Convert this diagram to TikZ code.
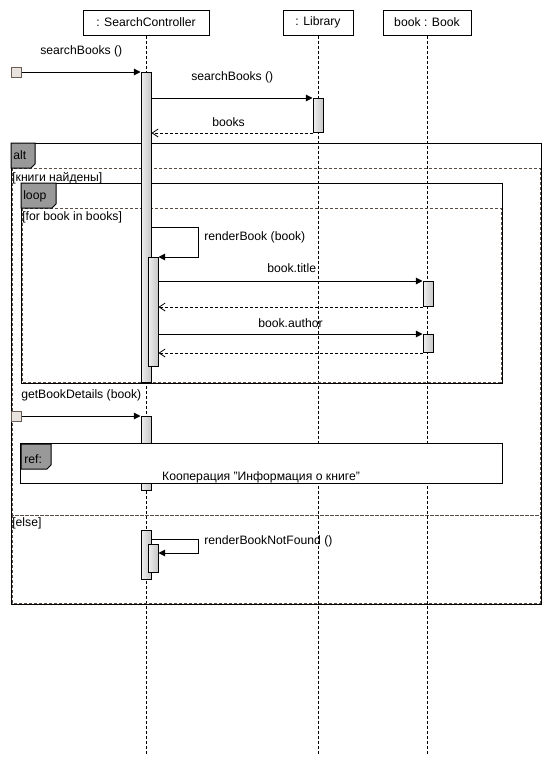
\documentclass[tikz,border=0pt]{standalone}
\usepackage{fontspec}
\setmainfont[Ligatures=Common]{Liberation Sans}
\usetikzlibrary{arrows.meta,calc}
\definecolor{tabgray}{HTML}{999999}
\definecolor{dashbrown}{HTML}{5A4D46}
\definecolor{foundfill}{HTML}{E8E3DE}
\definecolor{foundline}{HTML}{6B5D55}
\begin{document}
\begin{tikzpicture}[x=0.75pt,y=-0.75pt,
  every node/.style={font=\fontsize{9.15}{11}\selectfont},
  head/.style={draw,line width=0.75pt,minimum height=18.75pt,inner sep=0pt,fill=white},
  lifeline/.style={dashed,dash pattern=on 2.25pt off 1.5pt,line width=0.75pt},
  act/.style={draw,line width=0.75pt,minimum width=7.5pt,inner sep=0pt,anchor=north,left color=white!94!black,right color=black!22},
  msg/.style={line width=0.75pt,-{Triangle[length=5pt,width=5pt]}},
  ret/.style={line width=0.75pt,dashed,dash pattern=on 2.25pt off 1.5pt,-{Straight Barb[length=4.5pt,width=6pt,line width=0.6pt]}},
  lbl/.style={anchor=west,inner sep=0pt},
  found/.style={draw=foundline,fill=foundfill,line width=0.75pt,minimum size=7.5pt,inner sep=0pt},
  frame/.style={draw,line width=0.75pt},
  operand/.style={draw=dashbrown,dashed,dash pattern=on 2.25pt off 1.5pt,line width=0.75pt},
  tab/.style={draw,fill=tabgray,line width=0.75pt}]
\useasboundingbox (0,0) rectangle (552,764);
\fill[white] (0,0) rectangle (552,764);

% heads
\node[head,minimum width=94.5pt] (sc) at (146,22.5) {: SearchController};
\node[head,minimum width=52.5pt] (lib) at (318,22.5) {: Library};
\node[head,minimum width=66pt] (bk) at (427,22.5) {book : Book};
\coordinate (scend) at (146,755);
\coordinate (libend) at (318,755);
\coordinate (bkend) at (427,755);
\draw[lifeline] (sc.south) -- (scend);
\draw[lifeline] (lib.south) -- (libend);
\draw[lifeline] (bk.south) -- (bkend);

% alt frame
\draw[frame] (11,143) rectangle (541,604);
\draw[operand] (12,168) rectangle (540,515);
\draw[operand] (12,515) rectangle (540,603);
\draw[tab] (11,143) -- (35,143) -- (35,164) -- (31,168) -- (11,168) -- cycle;
\node[lbl] (altlbl) at (13,155.5) {alt};
\node[lbl] (g1) at (12,178) {[книги найдены]};
\node[lbl] (g2) at (12,523) {[else]};

% loop frame
\draw[frame] (21,183) rectangle (502,383);
\draw[operand] (22,208) rectangle (501,382);
\draw[tab] (21,183) -- (56,183) -- (56,204) -- (52,208) -- (21,208) -- cycle;
\node[lbl] (looplbl) at (23,196) {loop};
\node[lbl] (g3) at (22,217) {[for book in books]};

% activations
\node[act,minimum height=232.5pt] (a1) at (146,72) {};
\node[act,minimum height=25.5pt] (l1) at (318,98) {};
\node[act,minimum height=81.75pt] (a2) at (153,257) {};
\node[act,minimum height=18.75pt] (b1) at (428,281) {};
\node[act,minimum height=13.5pt] (b2) at (428,334) {};
\node[act,minimum height=55.5pt] (a3) at (146,416) {};
\node[act,minimum height=36.75pt] (a4) at (146,530) {};
\node[act,minimum height=21pt] (a5) at (153,544) {};

% found messages
\node[found] (f1) at (16,72) {};
\node[found] (f2) at (16,416) {};
\draw[msg] (f1.east) -- (a1.north west);
\node[lbl] (m1) at (40,51) {searchBooks ()};
\draw[msg] (f2.east) -- (a3.north west);
\node[lbl] (m2) at (21,395.5) {getBookDetails (book)};

% searchBooks to Library
\draw[msg] (a1.east |- l1.north) -- (l1.north west);
\node[lbl] (m3) at (191,77.5) {searchBooks ()};
\draw[ret] (l1.south west) -- (a1.east |- l1.south);
\node[lbl] (m4) at (212,122.5) {books};

% renderBook self call
\coordinate (s1) at (a1.east |- 0,227);
\draw[msg] (s1) -- ++(47,0) |- (a2.north east);
\node[lbl] (m5) at (204,237) {renderBook (book)};

% book.title
\draw[msg] (a2.east |- b1.north) -- (b1.north west);
\node[lbl] (m6) at (267,268) {book.title};
\draw[ret] (b1.south west) -- (a2.east |- b1.south);

% book.author
\draw[msg] (a2.east |- b2.north) -- (b2.north west);
\node[lbl] (m7) at (258,323) {book.author};
\draw[ret] (b2.south west) -- (a2.east |- b2.south);

% ref frame
\draw[frame,fill=white] (20,443) rectangle (502,483);
\draw[tab] (21,444) -- (51,444) -- (51,465) -- (47,469) -- (21,469) -- cycle;
\node[lbl] (reflbl) at (24,459) {ref:};
\node (refcap) at (261,477.5) {Кооперация \char34Информация о книге\char34};

% renderBookNotFound
\coordinate (s2) at (a4.east |- 0,539);
\coordinate (s2e) at (a5.east |- 0,553);
\draw[msg] (s2) -- ++(47,0) |- (s2e);
\node[lbl] (m8) at (204,541.5) {renderBookNotFound ()};
\end{tikzpicture}
\end{document}
